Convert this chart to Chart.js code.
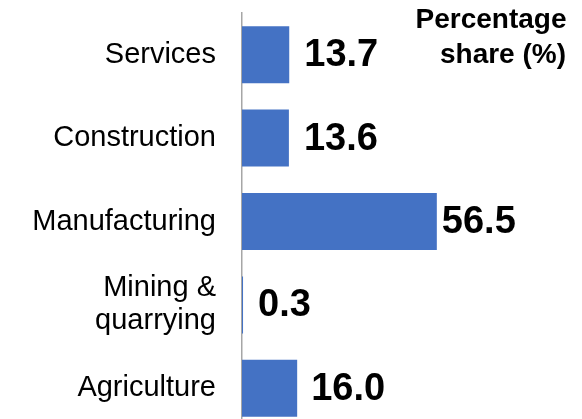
<!DOCTYPE html>
<html>
<head>
<meta charset="utf-8">
<script src="https://cdn.jsdelivr.net/npm/chart.js@4"></script>
<style>
html,body{margin:0;padding:0;background:#fff;overflow:hidden;}
#wrap{width:582px;height:430px;position:relative;}
</style>
</head>
<body>
<div id="wrap"><canvas id="c"></canvas></div>
<script>
const categories = ["Services", "Construction", "Manufacturing", ["Mining &", "quarrying"], "Agriculture"];
const shares = [13.7, 13.6, 56.5, 0.3, 16.0];
const valueLabels = ["13.7", "13.6", "56.5", "0.3", "16.0"];
const titleLines = ["Percentage", "share (%)"];

const valueLabelPlugin = {
  id: 'valueLabels',
  afterDatasetsDraw(chart, args, opts) {
    const ctx = chart.ctx;
    const meta = chart.getDatasetMeta(0);
    ctx.save();
    ctx.font = 'bold 38px "Liberation Sans", Arial, sans-serif';
    ctx.fillStyle = '#000';
    ctx.textAlign = 'left';
    ctx.textBaseline = 'middle';
    meta.data.forEach((bar, i) => {
      const off = opts.offsets[i];
      ctx.fillText(valueLabels[i], bar.x + off, bar.y + 1);
    });
    // header text
    ctx.font = 'bold 28px "Liberation Sans", Arial, sans-serif';
    ctx.textAlign = 'center';
    ctx.textBaseline = 'alphabetic';
    ctx.fillText(titleLines[0], 491, 28);
    ctx.fillText(titleLines[1], 503, 63);
    ctx.restore();
  }
};

new Chart(document.getElementById('c'), {
  type: 'bar',
  data: {
    labels: categories,
    datasets: [{
      data: shares,
      backgroundColor: '#4472C4',
      borderWidth: 0,
      barPercentage: 1,
      categoryPercentage: 0.684
    }]
  },
  options: {
    indexAxis: 'y',
    responsive: true,
    maintainAspectRatio: false,
    animation: false,
    layout: { padding: { top: 13, left: 0, right: 0, bottom: 0 } },
    plugins: {
      legend: { display: false },
      tooltip: { enabled: false },
      valueLabels: { offsets: [15, 15, 5, 15, 14] }
    },
    scales: {
      x: { display: false, min: 0, max: 98.6 },
      y: {
        grid: { display: false, drawTicks: false },
        border: { display: true, color: '#A6A6A6', width: 1.5 },
        ticks: {
          color: '#000',
          padding: 26,
          font: { family: '"Liberation Sans", Arial, sans-serif', size: 29, lineHeight: 1.14 }
        },
        afterFit(scale) {
          scale.width = 242;
          scale.paddingTop = 0;
          scale.paddingBottom = 0;
        }
      }
    }
  },
  plugins: [valueLabelPlugin]
});
</script>
</body>
</html>
